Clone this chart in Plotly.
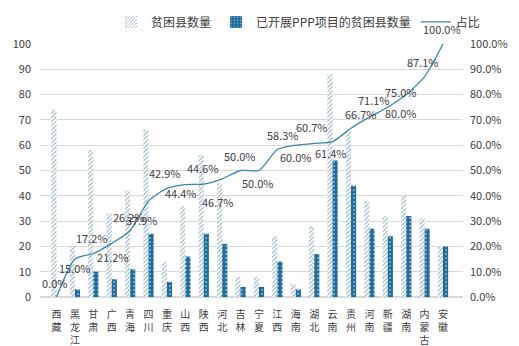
import plotly.graph_objects as go

provinces = ["西藏", "黑龙江", "甘肃", "广西", "青海", "四川", "重庆", "山西", "陕西", "河北", "吉林",
             "宁夏", "江西", "海南", "湖北", "云南", "贵州", "河南", "新疆", "湖南", "内蒙古", "安徽"]
poor_counties = [74, 20, 58, 33, 42, 66, 14, 36, 56, 45, 8, 8, 24, 5, 28, 88, 66, 38, 32, 40, 31, 20]
ppp_counties = [0, 3, 10, 7, 11, 25, 6, 16, 25, 21, 4, 4, 14, 3, 17, 54, 44, 27, 24, 32, 27, 20]
share = [0.0, 0.150, 0.172, 0.212, 0.262, 0.379, 0.429, 0.444, 0.446, 0.467, 0.500,
         0.500, 0.583, 0.600, 0.607, 0.614, 0.667, 0.711, 0.750, 0.800, 0.871, 1.000]
# data-label offsets (pixels) as placed in the original chart
label_dx = [-2, 0, -1, 1, -1, -7, -2, -4, -1, -4, -1, -1, 6, 0, -2, -2, 10, 5, 13, -5, -2, -1]
label_dy = [14, -9, 15, -14, 14, -19, 15, -8, 16, -23, 15, -12, 15, -12, 16, -11, 14, 17, 15, -18, 15, 15]

tick_text = ["<br>".join(list(p)) for p in provinces]
font_family = "Noto Sans CJK SC, Liberation Sans, sans-serif"

fig = go.Figure()
fig.add_trace(go.Bar(
    x=provinces, y=poor_counties, name="贫困县数量",
    marker=dict(color="white", line=dict(width=0),
                pattern=dict(shape="/", fgcolor="#235f7e", bgcolor="white", size=3, solidity=0.35)),
))
fig.add_trace(go.Bar(
    x=provinces, y=ppp_counties, name="已开展PPP项目的贫困县数量",
    marker=dict(color="#1f6c9c", line=dict(width=0),
                pattern=dict(shape=".", fgcolor="white", bgcolor="#1f6c9c", size=4, solidity=0.2)),
))
fig.add_trace(go.Scatter(
    x=provinces, y=share, name="占比", yaxis="y2", mode="lines",
    line=dict(color="#3f86ad", width=1.3, shape="spline", smoothing=0.6),
    cliponaxis=False,
))

for p, v, dx, dy in zip(provinces, share, label_dx, label_dy):
    fig.add_annotation(x=p, y=v, xref="x", yref="y2", text=f"{v*100:.1f}%", showarrow=False,
                       xshift=dx, yshift=dy, font=dict(size=11, color="#404040", family=font_family))

fig.update_layout(
    width=519, height=346,
    margin=dict(l=40, r=56, t=44, b=49, autoexpand=False),
    paper_bgcolor="white", plot_bgcolor="white",
    font=dict(family=font_family, size=11, color="#404040"),
    barmode="group", bargap=0.44, bargroupgap=0,
    showlegend=True,
    legend=dict(orientation="h", x=0.61, xanchor="center", y=1.03, yanchor="bottom",
                font=dict(size=12, color="#404040"), itemwidth=30, tracegroupgap=0,
                bgcolor="rgba(0,0,0,0)"),
    xaxis=dict(tickmode="array", tickvals=provinces, ticktext=tick_text, tickangle=0,
               showgrid=False, showline=False, ticks="", ticklabelstandoff=10, automargin=False,
               tickfont=dict(size=10, color="#404040")),
    yaxis=dict(range=[0, 100], dtick=10, showgrid=True, gridcolor="#d9d9d9", gridwidth=1,
               zeroline=True, zerolinecolor="#d9d9d9", showline=False, ticks="", automargin=False,
               ticklabelstandoff=8, tickfont=dict(size=11)),
    yaxis2=dict(range=[0, 1], dtick=0.1, tickformat=".1%", overlaying="y", side="right",
                showgrid=False, zeroline=False, showline=False, ticks="", automargin=False,
                ticklabelstandoff=6, tickfont=dict(size=11)),
)

fig.write_html("out.html")
